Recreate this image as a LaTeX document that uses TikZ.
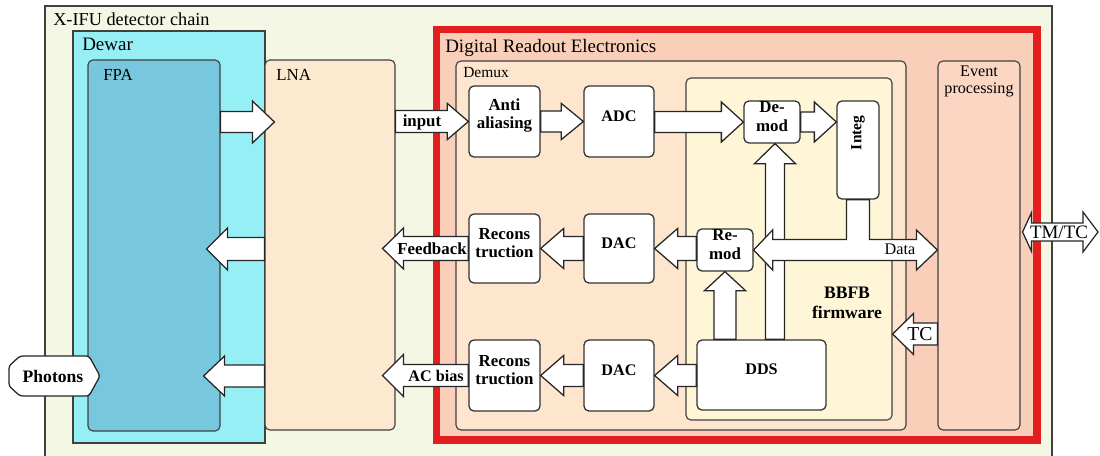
\documentclass[tikz,border=0pt]{standalone}
\usepackage{fontspec}
\setmainfont{Liberation Serif}
\usetikzlibrary{calc,fit}
\definecolor{outerbg}{HTML}{F3F7E4}
\definecolor{dewarc}{HTML}{97EFF6}
\definecolor{fpac}{HTML}{77C8DF}
\definecolor{lnac}{HTML}{FDE8D0}
\definecolor{drefill}{HTML}{FACFBA}
\definecolor{drered}{HTML}{E31E1E}
\definecolor{demuxc}{HTML}{FDE6CD}
\definecolor{bbfbc}{HTML}{FEF6D7}
\definecolor{epc}{HTML}{FBD6C3}
\newcommand\pxu{0.7113pt}
% horizontal block arrow: [opts]{start}{tip}{shaft half}{head half}{head length}
\newcommand\harrow[6][]{%
 \draw[barrow,#1] let \p1=#2, \p2=#3, \n1={(\x2-\x1)/abs(\x2-\x1)} in
 (\x1,{\y2+#4*\pxu}) -- ({\x2-(\n1)*#6*\pxu},{\y2+#4*\pxu}) -- ({\x2-(\n1)*#6*\pxu},{\y2+#5*\pxu})
 -- (\x2,\y2) -- ({\x2-(\n1)*#6*\pxu},{\y2-#5*\pxu}) -- ({\x2-(\n1)*#6*\pxu},{\y2-#4*\pxu})
 -- (\x1,{\y2-#4*\pxu}) -- cycle;}
% vertical block arrow
\newcommand\varrow[6][]{%
 \draw[barrow,#1] let \p1=#2, \p2=#3, \n1={(\y2-\y1)/abs(\y2-\y1)} in
 ({\x2+#4*\pxu},\y1) -- ({\x2+#4*\pxu},{\y2-(\n1)*#6*\pxu}) -- ({\x2+#5*\pxu},{\y2-(\n1)*#6*\pxu})
 -- (\x2,\y2) -- ({\x2-#5*\pxu},{\y2-(\n1)*#6*\pxu}) -- ({\x2-#4*\pxu},{\y2-(\n1)*#6*\pxu})
 -- ({\x2-#4*\pxu},\y1) -- cycle;}
% TM/TC double arrow
\newcommand\tmarrow[1]{%
 \draw[#1] let \p1=($(EP.east |- rtm)+(2,0)$), \p2=(tmend) in
  (\x1,\y1) -- ({\x1+9*\pxu},{\y1+19.5*\pxu}) -- ({\x1+9*\pxu},{\y1+9*\pxu})
  -- ({\x2-15*\pxu},{\y1+9*\pxu}) -- ({\x2-15*\pxu},{\y1+20*\pxu}) -- (\x2,\y1)
  -- ({\x2-15*\pxu},{\y1-20*\pxu}) -- ({\x2-15*\pxu},{\y1-9*\pxu})
  -- ({\x1+9*\pxu},{\y1-9*\pxu}) -- ({\x1+9*\pxu},{\y1-19.5*\pxu}) -- cycle;}
\begin{document}
\begin{tikzpicture}[x=0.025cm,y=-0.025cm,
  frame/.style={draw=black!75, line width=0.8pt, inner sep=0pt},
  region/.style={frame, rounded corners=3.5pt},
  blk/.style={draw=black!80, line width=0.9pt, fill=white, rounded corners=3.5pt, inner sep=0pt,
     align=center, font=\fontsize{12}{13}\selectfont\bfseries},
  blks/.style={blk, font=\fontsize{11.5}{13}\selectfont\bfseries},
  barrow/.style={draw=black!85, line width=0.9pt, fill=white, line join=miter},
  tmshadow/.style={fill=black!25, draw=none, shift={(2,3)}},
  lbl/.style={inner sep=0pt, anchor=base west},
  albl/.style={inner sep=0pt, font=\fontsize{12}{14}\selectfont\bfseries}]
\useasboundingbox (0,0) rectangle (1100,455);

% regions
\node[frame, fill=outerbg, fit={(45,6)(1052,470)}] (chain) {};
\node[lbl, font=\fontsize{13}{15}\selectfont] (chainlbl) at (53,25) {X-IFU detector chain};
\node[frame, fill=dewarc, fit={(73,31)(265,443)}] (dewar) {};
\node[lbl, font=\fontsize{13.5}{15}\selectfont] (dewarlbl) at (82,50) {Dewar};
\node[region, fill=fpac, fit={(88,60)(220,431)}] (FPA) {};
\node[lbl, font=\fontsize{12}{14}\selectfont] (fpalbl) at (103,80) {FPA};
\node[region, fill=lnac, fit={(265,60)(395,430)}] (LNA) {};
\node[lbl, font=\fontsize{12}{14}\selectfont] (lnalbl) at (276,80) {LNA};
\node[draw=drered, line width=5pt, fill=drefill, inner sep=0pt, fit={(436.5,29.5)(1037,440)}] (DRE) {};
\node[lbl, font=\fontsize{13.5}{15}\selectfont] (drelbl) at (445,52) {Digital Readout Electronics};
\node[region, fill=demuxc, fit={(456,61)(906,430)}] (demux) {};
\node[lbl, font=\fontsize{11}{12}\selectfont] (demuxlbl) at (463,77) {Demux};
\node[region, fill=bbfbc, fit={(686,78)(892,420)}] (BBFB) {};
\node[inner sep=0pt, align=center, font=\fontsize{12.5}{14}\selectfont\bfseries] (bbfblbl) at (847,303) {BBFB\\firmware};
\node[region, fill=epc, fit={(938,61)(1020,430)}] (EP) {};
\node[inner sep=0pt, anchor=north, align=center, font=\fontsize{11.5}{11.5}\selectfont] (eplbl) at (979,66) {Event\\processing};

% blocks
\node[blk, fit={(469,86)(540,157)}] (AA) {Anti\\aliasing};
\node[blks, fit={(584,86)(654,157)}] (ADC) {ADC};
\node[blk, fit={(744,101)(800,143)}] (Demod) {De-\\mod};
\node[blk, fit={(837,101)(879,199)}, font=\fontsize{11}{12}\selectfont\bfseries] (Integ) {\rotatebox{90}{Integ}};
\node[blk, fit={(469,214)(540,283)}] (Rec1) {Recons\\truction};
\node[blks, fit={(584,214)(654,283)}] (DAC1) {DAC};
\node[blk, fit={(697,229)(753,271)}] (Remod) {Re-\\mod};
\node[blk, fit={(469,340)(540,411)}] (Rec2) {Recons\\truction};
\node[blks, fit={(584,340)(654,411)}] (DAC2) {DAC};
\node[blks, fit={(697,340)(826,410)}] (DDS) {DDS};

\coordinate (r1) at (0,122);
\coordinate (r2) at (0,249);
\coordinate (r3) at (0,376);
\coordinate (rtc) at (0,334);
\coordinate (rtm) at (0,232);
\coordinate (tmend) at (1098,232);

% arrows left part
\harrow{(FPA.east |- r1)}{($(LNA.west |- r1)+(10,0)$)}{10.5}{21}{22}
\harrow{(LNA.west |- r2)}{($(FPA.east |- r2)+(-14,0)$)}{11.5}{21}{21}
\harrow{(LNA.west |- r3)}{($(FPA.east |- r3)+(-17,0)$)}{11}{20}{21}
\harrow{(LNA.east |- AA)}{(AA.west)}{11}{18}{21}
\node[albl] (inputlbl) at (422,122) {input};
\harrow{(AA.east)}{(ADC.west)}{10.5}{18}{22}
\harrow{(ADC.east)}{(Demod.west)}{10.5}{20}{22}
\harrow{(Demod.east)}{(Integ.west |- Demod)}{10}{20}{22}
\harrow{(Remod.west)}{(DAC1.east)}{12}{20}{23}
\harrow{(DAC1.west)}{(Rec1.east)}{12}{20}{23}
\harrow{(Rec1.west)}{($(LNA.east |- Rec1)+(-13,0)$)}{12}{20.5}{21}
\node[albl] (fblbl) at (432,249) {Feedback};
\harrow{(DDS.west |- DAC2)}{(DAC2.east)}{11}{20}{23}
\harrow{(DAC2.west)}{(Rec2.east)}{11}{20}{23}
\harrow{(Rec2.west)}{($(LNA.east |- Rec2)+(-13,0)$)}{11}{21}{21}
\node[albl, font=\fontsize{11.5}{13}\selectfont\bfseries] (aclbl) at (436,376) {AC bias};

% vertical arrows
\varrow{($(Demod.south |- DDS.north)+(3,0)$)}{($(Demod.south)+(3,0)$)}{9.5}{20.5}{20}
\varrow{(Remod.south |- DDS.north)}{(Remod.south)}{11}{20.5}{19}

% Data T-arrow
\draw[barrow] let \p1=(Remod.east), \p2=(EP.west), \p3=(Integ.south) in
  (\x1,\y1) -- ({\x1+19*\pxu},{\y1+20*\pxu}) -- ({\x1+19*\pxu},{\y1+10.5*\pxu})
  -- ({\x3-11.5*\pxu},{\y1+10.5*\pxu}) -- ({\x3-11.5*\pxu},\y3) -- ({\x3+11.5*\pxu},\y3)
  -- ({\x3+11.5*\pxu},{\y1+10.5*\pxu}) -- ({\x2-21*\pxu},{\y1+10.5*\pxu}) -- ({\x2-21*\pxu},{\y1+20*\pxu})
  -- (\x2,\y1) -- ({\x2-21*\pxu},{\y1-20*\pxu}) -- ({\x2-21*\pxu},{\y1-10.5*\pxu})
  -- ({\x1+19*\pxu},{\y1-10.5*\pxu}) -- ({\x1+19*\pxu},{\y1-20*\pxu}) -- cycle;
\node[inner sep=0pt, font=\fontsize{11.5}{13}\selectfont] (datalbl) at (900,249) {Data};

% TC
\harrow{(EP.west |- rtc)}{(BBFB.east |- rtc)}{11}{20.5}{21}
\node[inner sep=0pt, font=\fontsize{14}{16}\selectfont] (tclbl) at (920,334) {TC};

% TM/TC double arrow with shadow
\tmarrow{tmshadow}
\tmarrow{barrow}
\node[inner sep=0pt, font=\fontsize{13.5}{16}\selectfont] (tmtclbl) at (1059,232) {TM/TC};

% Photons
\draw[barrow, rounded corners=2pt] (20,356) -- (89,356) -- (100,376) -- (89,396) -- (20,396) -- (9,386) -- (9,366) -- cycle;
\node[albl, font=\fontsize{12.5}{14}\selectfont\bfseries] (photons) at (53,376) {Photons};
\end{tikzpicture}
\end{document}
